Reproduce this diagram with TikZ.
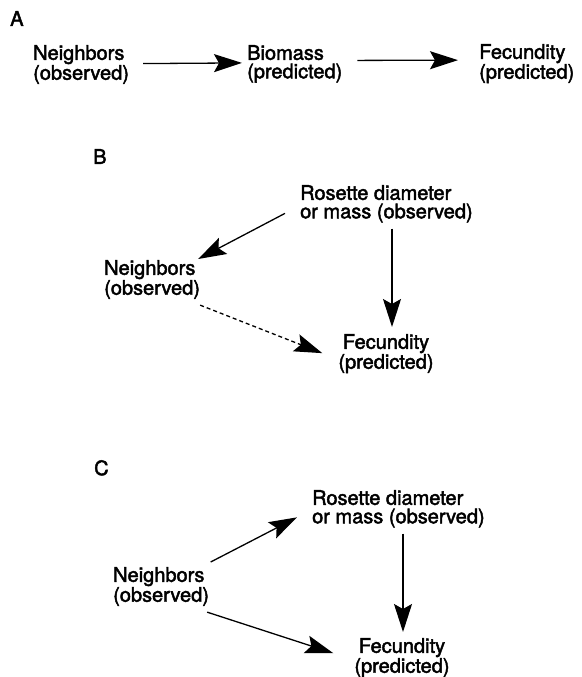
\documentclass[tikz,border=0pt]{standalone}
\usepackage{fontspec}
\setmainfont{TeX Gyre Heros}
\newfontfamily\heavyfont{TeX Gyre Heros}[RawFeature={embolden=2.2}]
\usetikzlibrary{arrows.meta,calc}

\begin{document}
\begin{tikzpicture}[
    x=1pt,y=-1pt,
    txt/.style={inner sep=0, align=left, anchor=north west, font=\heavyfont\fontsize{20}{18.5}\selectfont},
    ctxt/.style={txt, align=center, anchor=north},
    arr/.style={line width=1.3pt, -{Stealth[length=28pt,width=18pt,inset=5pt]}}
    ]
    \useasboundingbox (0,0) rectangle (581,677);
    % A
    \node[txt] (labA) at (10,11) {A};
    \node[txt] (nbA) at (33,45) {Neighbors\\(observed)};
    \node[txt] (bioA) at (247,45) {Biomass\\(predicted)};
    \node[txt] (fecA) at (479,44) {Fecundity\\(predicted)};
    \draw[arr] ($(nbA.east)+(14,-1)$) -- ($(bioA.west)+(-5,-1)$);
    \draw[arr] ($(bioA.east)+(15,-3.5)$) -- ($(fecA.west)+(-21,-3.5)$);
    % B
    \node[txt] (labB) at (93,149) {B};
    \node[txt] (rosB) at (300,185) {Rosette diameter\\or mass (observed)};
    \node[txt] (nbB) at (104,260) {Neighbors\\(observed)};
    \node[ctxt] (fecB) at (386,334) {Fecundity\\(predicted)};
    \draw[arr] ($(rosB.west)+(-15,9.5)$) -- ($(nbB.north east)+(-2,-1)$);
    \draw[arr] ($(rosB.south west)+(92,6)$) -- ($(fecB.north)+(6,-7)$);
    \draw[arr, dash pattern=on 4pt off 3pt] ($(nbB.south east)+(0,6)$) -- ($(fecB.west)+(-16,-0.5)$);
    % C
    \node[txt] (labC) at (94,460) {C};
    \node[txt] (rosC) at (312,490) {Rosette diameter\\or mass (observed)};
    \node[txt] (nbC) at (113,567) {Neighbors\\(observed)};
    \node[ctxt] (fecC) at (402,638) {Fecundity\\(predicted)};
    \draw[arr] ($(nbC.north east)+(1.5,-5)$) -- ($(rosC.west)+(-15,8.5)$);
    \draw[arr] ($(rosC.south west)+(91,6)$) -- ($(fecC.north)+(1,-6)$);
    \draw[arr] ($(nbC.south east)+(-2,6)$) -- ($(fecC.west)+(-21,-4.5)$);
\end{tikzpicture}
\end{document}
